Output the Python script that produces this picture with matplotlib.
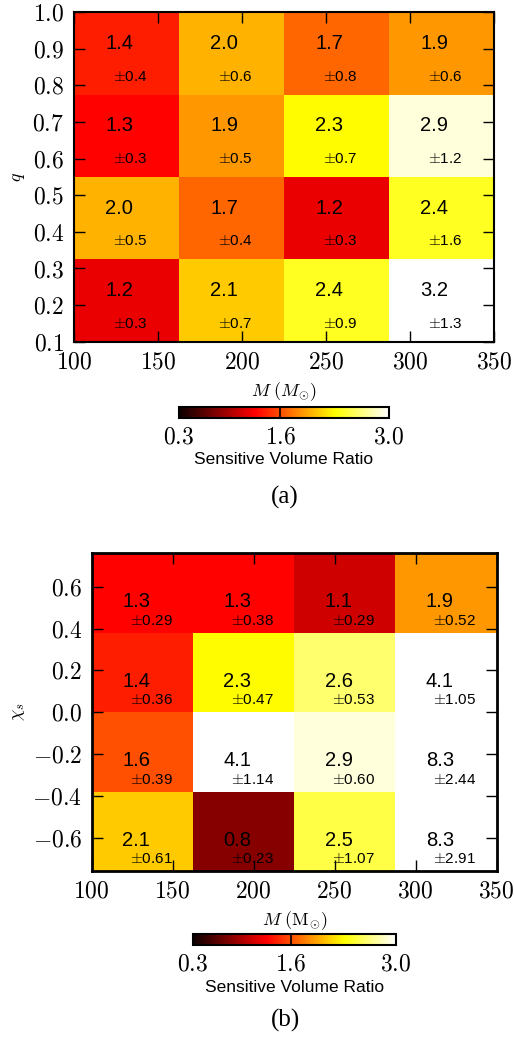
import numpy as np
import matplotlib
matplotlib.use("Agg")
import matplotlib.pyplot as plt
from matplotlib.ticker import FuncFormatter, MultipleLocator

plt.rcParams["mathtext.fontset"] = "cm"
plt.rcParams["font.family"] = ["Liberation Sans", "DejaVu Sans"]

# Mass bins (shared by both panels)
mass_edges = [100, 162.5, 225, 287.5, 350]

# Panel (a): mass ratio q bins, rows listed from low q to high q
q_edges = [0.1, 0.325, 0.55, 0.775, 1.0]
ratio_q = [
    [1.2, 2.1, 2.4, 3.2],
    [2.0, 1.7, 1.2, 2.4],
    [1.3, 1.9, 2.3, 2.9],
    [1.4, 2.0, 1.7, 1.9],
]
err_q = [
    ["0.3", "0.7", "0.9", "1.3"],
    ["0.5", "0.4", "0.3", "1.6"],
    ["0.3", "0.5", "0.7", "1.2"],
    ["0.4", "0.6", "0.8", "0.6"],
]

# Panel (b): effective spin bins, rows listed from low to high spin
chi_edges = [-0.76, -0.38, 0.0, 0.38, 0.76]
ratio_chi = [
    [2.1, 0.8, 2.5, 8.3],
    [1.6, 4.1, 2.9, 8.3],
    [1.4, 2.3, 2.6, 4.1],
    [1.3, 1.3, 1.1, 1.9],
]
err_chi = [
    ["0.61", "0.23", "1.07", "2.91"],
    ["0.39", "1.14", "0.60", "2.44"],
    ["0.36", "0.47", "0.53", "1.05"],
    ["0.29", "0.38", "0.29", "0.52"],
]

cbar_ticks = [0.3, 1.6, 3.0]
VMIN, VMAX = 0.3, 3.0

W, H = 514, 1038
fig = plt.figure(figsize=(W / 100, H / 100), dpi=100)


def fbox(x0, y0, x1, y1):
    """Pixel box (top-left origin) to figure fraction rect."""
    return [x0 / W, 1 - y1 / H, (x1 - x0) / W, (y1 - y0) / H]


math_fmt = FuncFormatter(lambda v, p: r"$%.1f$" % v if abs(v) > 1e-9 else r"$0.0$")
int_fmt = FuncFormatter(lambda v, p: r"$%d$" % round(v))


def panel(ax_rect, cax_rect, yedges, vals, errs, big_frac, pm_frac, ylabel,
          xlabel, ystep, spine_w):
    ax = fig.add_axes(fbox(*ax_rect))
    mesh = ax.pcolormesh(mass_edges, yedges, np.array(vals), cmap="hot",
                         vmin=VMIN, vmax=VMAX, shading="flat")
    for i in range(4):
        top = yedges[i + 1]
        h = yedges[i + 1] - yedges[i]
        for j in range(4):
            left = mass_edges[j]
            w = mass_edges[j + 1] - mass_edges[j]
            ax.text(left + 0.30 * w, top - big_frac * h, "%.1f" % vals[i][j],
                    fontsize=14.5, ha="left", va="center", color="black")
            ax.text(left + 0.375 * w, top - pm_frac * h, r"$\pm$" + errs[i][j],
                    fontsize=11, ha="left", va="center", color="black")
    ax.set_xlim(mass_edges[0], mass_edges[-1])
    ax.set_ylim(yedges[0], yedges[-1])
    ax.xaxis.set_major_locator(MultipleLocator(50))
    ax.yaxis.set_major_locator(MultipleLocator(ystep))
    ax.xaxis.set_major_formatter(int_fmt)
    ax.yaxis.set_major_formatter(math_fmt)
    ax.tick_params(direction="in", length=8, width=1, top=True, right=True,
                   labelsize=17, pad=7)
    for s in ax.spines.values():
        s.set_linewidth(spine_w)
    ax.set_xlabel(xlabel, fontsize=13, labelpad=5)
    ax.set_ylabel(ylabel, fontsize=13, labelpad=4)

    cax = fig.add_axes(fbox(*cax_rect))
    cb = fig.colorbar(mesh, cax=cax, orientation="horizontal", ticks=cbar_ticks)
    cb.ax.xaxis.set_major_formatter(math_fmt)
    cb.ax.tick_params(direction="in", length=8, width=1.2, labelsize=17, pad=6)
    cb.outline.set_linewidth(1.5)
    cb.set_label("Sensitive Volume Ratio", fontsize=12.5, labelpad=3)
    return ax


panel((74, 12.3, 494, 341.7), (179, 407, 389, 418), q_edges, ratio_q, err_q,
      0.38, 0.78, r"$q$", r"$M\ (M_{\odot})$", 0.1, 1.5)
panel((91.7, 553.3, 496.7, 871), (192.7, 934, 396, 945), chi_edges, ratio_chi,
      err_chi, 0.61, 0.85, r"$\chi_s$", r"$M\ (\mathrm{M}_{\odot})$", 0.2, 2.0)

fig.text(285 / W, 1 - 497 / H, "(a)", fontsize=18, ha="center", va="center",
         family=["Liberation Serif", "DejaVu Serif"])
fig.text(286 / W, 1 - 1020 / H, "(b)", fontsize=18, ha="center", va="center",
         family=["Liberation Serif", "DejaVu Serif"])

fig.savefig("out.png", dpi=100)
